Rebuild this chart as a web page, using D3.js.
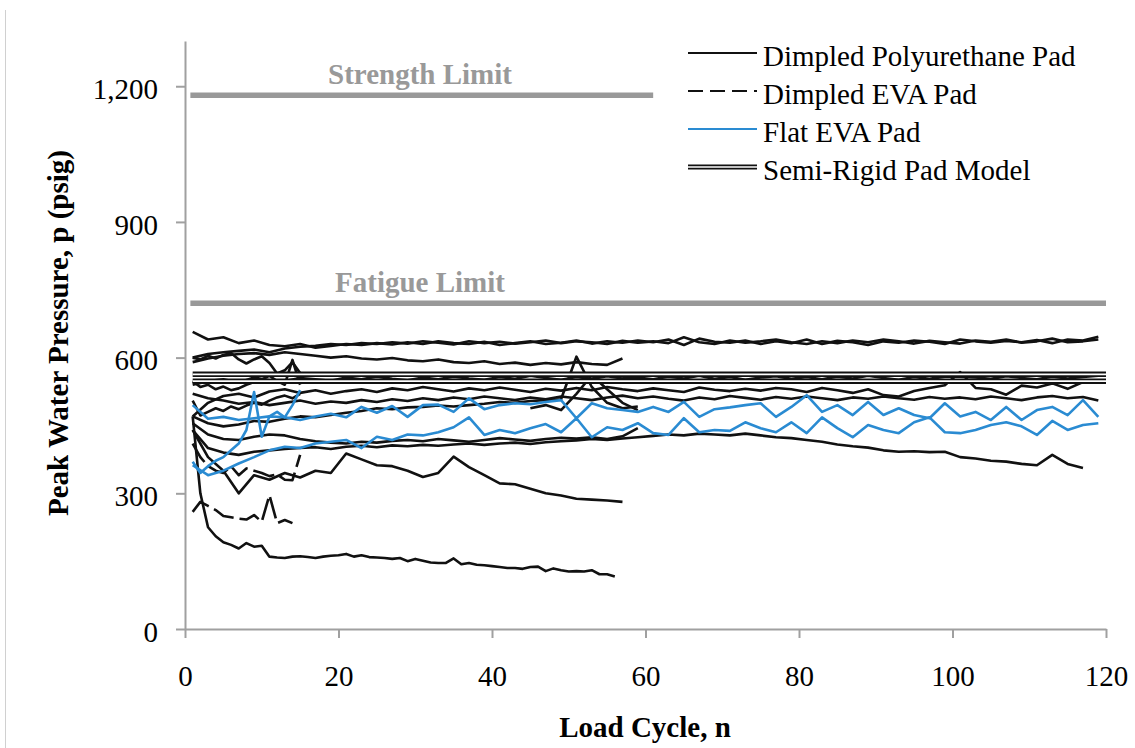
<!DOCTYPE html>
<html>
<head>
<meta charset="utf-8">
<script src="https://cdn.jsdelivr.net/npm/d3@7"></script>
<style>
  body { margin: 0; background: #fff; }
  svg { display: block; }
</style>
</head>
<body>
<div id="chart"></div>
<script>
// Axis ticks
const xTicks = [0, 20, 40, 60, 80, 100, 120];
const yTicks = [0, 300, 600, 900, 1200];

// Limits (psig) and the last cycle each grey line reaches
const limitNames = ["Strength Limit", "Fatigue Limit"];
const limitValues = [1180, 720];
const limitEnds = [61, 120];

// Semi-rigid pad model (flat predictions, psig)
const semiRigid = [563, 548];

// Dimpled polyurethane pad runs, long records sampled at cycles 1,3,5,...
const puA = [657, 640, 645, 632, 638, 628, 625, 630, 622, 626,
             630, 628, 632, 629, 634, 630, 636, 632, 630, 635,
             628, 632, 636, 630, 633, 638, 631, 636, 633, 638,
             634, 640, 628, 642, 635, 633, 638, 630, 636, 632,
             640, 630, 637, 634, 628, 636, 633, 638, 635, 630,
             640, 636, 633, 637, 634, 639, 632, 640, 638, 646];
const puB = [600, 608, 612, 615, 618, 612, 620, 624, 626, 630,
             628, 632, 630, 634, 631, 636, 633, 629, 636, 632,
             635, 631, 634, 638, 632, 636, 634, 630, 637, 633,
             636, 632, 645, 634, 630, 638, 633, 636, 640, 634,
             630, 636, 632, 638, 634, 640, 636, 631, 637, 634,
             631, 638, 635, 640, 633, 636, 642, 634, 636, 640];
const puC = [590, 598, 604, 608, 610, 606, 612, 608, 604, 600,
             603, 598, 596, 599, 594, 592, 596, 590, 588, 592,
             586, 589, 584, 588, 585, 590, 586, 584, 598];
const puD = [540, 548, 552, 545, 556, 550, 548, 555, 552, 549,
             556, 552, 558, 553, 550, 556, 552, 558, 554, 551,
             557, 553, 560, 555, 551, 557, 553, 559, 554, 556,
             552, 558, 554, 560, 553, 557, 551, 556, 559, 553,
             557, 552, 558, 554, 560, 555, 551, 557, 553, 558,
             558, 556, 553, 559, 555, 552, 558, 554, 557, 560];
const puE = [470, 500, 515, 520, 512, 525, 530, 522, 528, 520,
             526, 530, 524, 532, 528, 535, 530, 525, 532, 528,
             534, 529, 524, 531, 527, 533, 528, 535, 530, 526,
             532, 528, 524, 534, 529, 526, 531, 527, 533, 530,
             524, 533, 528, 522, 530, 517, 514, 526, 533, 539,
             568, 533, 530, 518, 538, 534, 543, 531, 546];
const puF = [520, 510, 505, 498, 502, 495, 500, 505, 498, 503,
             500, 506, 502, 508, 504, 510, 506, 512, 508, 514,
             510, 506, 512, 508, 514, 510, 506, 512, 516, 510,
             514, 509, 505, 512, 508, 515, 511, 507, 513, 509,
             514, 510, 506, 512, 509, 514, 510, 507, 513, 509,
             512, 508, 514, 510, 506, 512, 515, 510, 513, 505];
const puG = [470, 455, 448, 452, 460, 458, 465, 470, 468, 473,
             478, 482, 488, 486, 490, 491, 494, 492, 495, 498,
             502, 500, 504, 506, 508, 602, 535, 500, 488, 492];
const puH = [455, 430, 420, 418, 425, 430, 428, 420, 415, 412,
             410, 414, 412, 416, 418, 415, 420, 417, 414, 418,
             422, 419, 416, 420, 423, 421, 424, 420, 426, 444];
const puI = [440, 400, 390, 385, 392, 395, 398, 400, 402, 398,
             403, 405, 402, 406, 404, 407, 405, 408, 410, 407,
             410, 412, 409, 413, 415, 417, 420, 418, 421, 424,
             427, 430, 428, 432, 430, 428, 432, 428, 424, 422,
             418, 414, 408, 404, 401, 395, 392, 393, 391, 392,
             380, 377, 372, 370, 365, 362, 385, 365, 356];
const puJ = [440, 380, 350, 300, 340, 330, 345, 335, 350, 345,
             388, 375, 362, 360, 350, 336, 345, 381, 358, 340,
             322, 320, 310, 300, 295, 288, 286, 284, 281];
// crossing run near the end of the short tests, cycles 45,47,...,59
const puO = [488, 495, 484, 520, 561, 530, 500, 484];
// every cycle from cycle 1
const puK = [470, 300, 225, 205, 192, 186, 178, 190, 182, 184,
             160, 158, 157, 160, 161, 159, 157, 160, 162, 163,
             166, 160, 163, 159, 158, 157, 155, 157, 150, 155,
             151, 147, 146, 146, 156, 143, 146, 142, 141, 139,
             137, 135, 135, 133, 137, 138, 128, 134, 130, 127,
             128, 127, 130, 121, 121, 116];
const puL = [600, 596, 604, 598, 606, 610, 596, 587, 596, 603, 588, 565, 572, 590, 566];
const puM = [548, 535, 540, 530, 536, 528, 532, 540, 546, 552, 560, 548, 540, 595, 540];
const puN = [505, 472, 480, 488, 482, 492, 486, 494, 500, 496, 505, 512, 516, 510, 520];

// Dimpled EVA pad runs (every cycle from cycle 1)
const evaA = [259, 281, 272, 263, 250, 247, 244, 242, 252, 237, 296, 234, 241, 234];
const evaB = [410, 380, 360, 350, 345, 360, 340, 355, 350, 345, 338, 342, 330, 329, 385];

// Flat EVA pad runs
const flatA = [495, 465, 469, 462, 466, 470, 468, 462, 470, 476,
               468, 491, 478, 493, 469, 495, 496, 480, 510, 486,
               495, 499, 497, 502, 506, 466, 499, 488, 484, 480,
               491, 480, 502, 469, 486, 490, 495, 499, 469, 491,
               517, 480, 495, 473, 502, 473, 488, 473, 466, 499,
               470, 480, 462, 491, 462, 484, 491, 473, 506, 469];
const flatB = [362, 340, 350, 366, 380, 395, 403, 400, 410, 414,
               418, 400, 425, 418, 430, 428, 435, 446, 468, 429,
               440, 433, 444, 453, 435, 466, 424, 446, 440, 455,
               433, 429, 466, 435, 440, 438, 457, 444, 435, 457,
               433, 468, 444, 424, 451, 440, 433, 457, 468, 435,
               433, 440, 451, 457, 448, 429, 460, 440, 451, 455];
const flatC = [370, 345, 360, 372, 380, 395, 410, 440, 524, 425, 470, 480, 468, 495, 528];

const legendNames = ["Dimpled Polyurethane Pad", "Dimpled EVA Pad", "Flat EVA Pad", "Semi-Rigid Pad Model"];

// run table: values, first cycle, cycle step, pad type
const runs = [
  {v: puA, start: 1, step: 2, type: "pu"},
  {v: puB, start: 1, step: 2, type: "pu"},
  {v: puC, start: 1, step: 2, type: "pu"},
  {v: puD, start: 1, step: 2, type: "pu"},
  {v: puE, start: 1, step: 2, type: "pu"},
  {v: puF, start: 1, step: 2, type: "pu"},
  {v: puG, start: 1, step: 2, type: "pu"},
  {v: puH, start: 1, step: 2, type: "pu"},
  {v: puI, start: 1, step: 2, type: "pu"},
  {v: puJ, start: 1, step: 2, type: "pu"},
  {v: puO, start: 45, step: 2, type: "pu"},
  {v: puK, start: 1, step: 1, type: "pu"},
  {v: puL, start: 1, step: 1, type: "pu"},
  {v: puM, start: 1, step: 1, type: "pu"},
  {v: puN, start: 1, step: 1, type: "pu"},
  {v: evaA, start: 1, step: 1, type: "eva"},
  {v: evaB, start: 1, step: 1, type: "eva"},
  {v: flatA, start: 1, step: 2, type: "flat"},
  {v: flatB, start: 1, step: 2, type: "flat"},
  {v: flatC, start: 1, step: 1, type: "flat"}
];

const width = 1135, height = 748;
const serif = "'Liberation Serif', 'Times New Roman', Times, serif";
const grey = "#999999", blue = "#2a8bd2", ink = "#111111";

const svg = d3.select("#chart")
  .append("svg")
  .attr("width", width)
  .attr("height", height);

const x = d3.scaleLinear().domain([0, 120]).range([185, 1106]);
const y = d3.scaleLinear().domain([0, 1300]).range([629, 41]);

// faint frame edge on the left
svg.append("line")
  .attr("x1", 5.5).attr("x2", 5.5)
  .attr("y1", 10).attr("y2", height)
  .attr("stroke", "#d0d0d0")
  .attr("stroke-width", 1);

// X-axis
const xAxis = svg.append("g")
  .attr("transform", `translate(0,${y(0)})`)
  .call(d3.axisBottom(x).tickValues(xTicks).tickSize(9).tickSizeOuter(0).tickPadding(27));

// Y-axis
const yAxis = svg.append("g")
  .attr("transform", `translate(${x(0)},0)`)
  .call(d3.axisLeft(y).tickValues(yTicks).tickFormat(d3.format(",")).tickSize(9).tickSizeOuter(0).tickPadding(18));

[xAxis, yAxis].forEach(g => {
  g.attr("font-family", serif).attr("font-size", 29);
  g.select(".domain").attr("stroke", "#a0a0a0").attr("stroke-width", 2);
  g.selectAll(".tick line").attr("stroke", "#a0a0a0").attr("stroke-width", 2);
  g.selectAll(".tick text").attr("fill", "#000");
});
yAxis.selectAll(".tick text").attr("dy", "0.42em");

// Axis titles
svg.append("text")
  .attr("x", 645)
  .attr("y", 737)
  .attr("text-anchor", "middle")
  .style("font-family", serif)
  .style("font-size", "29px")
  .style("font-weight", "bold")
  .text("Load Cycle, n");

svg.append("text")
  .attr("transform", "translate(68,333) rotate(-90)")
  .attr("text-anchor", "middle")
  .style("font-family", serif)
  .style("font-size", "29px")
  .style("font-weight", "bold")
  .text("Peak Water Pressure, p (psig)");

// Strength and fatigue limits
limitValues.forEach((v, i) => {
  svg.append("line")
    .attr("x1", x(0.7)).attr("x2", x(limitEnds[i]))
    .attr("y1", y(v)).attr("y2", y(v))
    .attr("stroke", grey)
    .attr("stroke-width", 5.5);
  svg.append("text")
    .attr("x", 420)
    .attr("y", y(v) - 11)
    .attr("text-anchor", "middle")
    .attr("fill", grey)
    .style("font-family", serif)
    .style("font-size", "29px")
    .style("font-weight", "bold")
    .text(limitNames[i]);
});

// Measured runs
const line = d3.line()
  .x(d => x(d[0]))
  .y(d => y(d[1]));

const order = ["pu", "eva", "flat"];
order.forEach(t => {
  runs.filter(r => r.type === t).forEach(r => {
    const pts = r.v.map((v, i) => [r.start + i * r.step, v]);
    svg.append("path")
      .attr("d", line(pts))
      .attr("fill", "none")
      .attr("stroke", t === "flat" ? blue : ink)
      .attr("stroke-width", 2.6)
      .attr("stroke-linejoin", "round")
      .attr("stroke-dasharray", t === "eva" ? "22,6" : null);
  });
});

// Semi-rigid model: double lines
semiRigid.forEach(v => {
  const pts = [[1, v], [120, v]];
  svg.append("path").attr("d", line(pts))
    .attr("stroke", ink).attr("stroke-width", 5.5);
  svg.append("path").attr("d", line(pts))
    .attr("stroke", "#fff").attr("stroke-width", 1.6);
});

// Legend
const legend = svg.append("g").attr("transform", "translate(688,53)");
const rowGap = 38;

legendNames.forEach((name, i) => {
  const g = legend.append("g").attr("transform", `translate(0,${i * rowGap})`);
  if (i === 3) {
    g.append("line").attr("x1", 0).attr("x2", 69).attr("y1", 0).attr("y2", 0)
      .attr("stroke", ink).attr("stroke-width", 5);
    g.append("line").attr("x1", 0).attr("x2", 69).attr("y1", 0).attr("y2", 0)
      .attr("stroke", "#fff").attr("stroke-width", 1.6);
  } else {
    g.append("line").attr("x1", 0).attr("x2", 69).attr("y1", 0).attr("y2", 0)
      .attr("stroke", i === 2 ? blue : ink)
      .attr("stroke-width", 2.2)
      .attr("stroke-dasharray", i === 1 ? "15,7" : null);
  }
  g.append("text")
    .attr("x", 75)
    .attr("y", 13)
    .style("font-family", serif)
    .style("font-size", "29px")
    .text(name);
});
</script>
</body>
</html>
